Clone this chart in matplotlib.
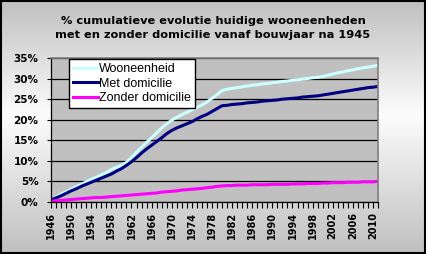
import matplotlib
matplotlib.use("Agg")
import matplotlib.pyplot as plt
import numpy as np
from matplotlib.patches import Rectangle

years = list(range(1946, 2012))

wooneenheid = [0.5, 1.2, 1.9, 2.5, 3.1, 3.7, 4.3, 4.9, 5.5, 6.0,
               6.6, 7.2, 7.9, 8.4, 8.9, 9.6, 10.8, 12.1, 13.3, 14.5,
               15.6, 16.8, 18.0, 19.0, 19.9, 20.6, 21.2, 21.8, 22.4, 23.0,
               23.6, 24.3, 25.2, 26.1, 27.1, 27.4, 27.6, 27.8, 28.0, 28.2,
               28.4, 28.5, 28.7, 28.8, 29.0, 29.1, 29.3, 29.4, 29.6, 29.7,
               29.9, 30.0, 30.2, 30.3, 30.5, 30.8, 31.1, 31.4, 31.6, 31.9,
               32.1, 32.4, 32.6, 32.8, 33.0, 33.2]

met_domicilie = [0.5, 1.0, 1.5, 2.1, 2.7, 3.2, 3.8, 4.3, 4.8, 5.3,
                 5.8, 6.3, 6.8, 7.5, 8.1, 8.9, 9.8, 10.8, 11.9, 12.9,
                 13.8, 14.7, 15.6, 16.6, 17.4, 18.0, 18.5, 19.0, 19.5, 20.2,
                 20.8, 21.3, 22.0, 22.7, 23.4, 23.5, 23.7, 23.8, 23.9, 24.1,
                 24.2, 24.3, 24.5, 24.6, 24.7, 24.8, 25.0, 25.1, 25.2, 25.3,
                 25.5, 25.6, 25.7, 25.8, 26.0, 26.2, 26.4, 26.6, 26.8, 27.0,
                 27.2, 27.4, 27.6, 27.8, 27.9, 28.1]

zonder_domicilie = [0.2, 0.3, 0.4, 0.5, 0.6, 0.7, 0.8, 0.9, 1.0, 1.1,
                    1.1, 1.2, 1.3, 1.4, 1.5, 1.6, 1.7, 1.8, 1.9, 2.0,
                    2.1, 2.2, 2.4, 2.5, 2.6, 2.7, 2.9, 3.0, 3.1, 3.2,
                    3.3, 3.5, 3.6, 3.8, 3.9, 4.0, 4.0, 4.1, 4.1, 4.1,
                    4.2, 4.2, 4.2, 4.2, 4.3, 4.3, 4.3, 4.3, 4.4, 4.4,
                    4.4, 4.5, 4.5, 4.5, 4.6, 4.6, 4.7, 4.7, 4.7, 4.8,
                    4.8, 4.8, 4.9, 4.9, 4.9, 5.0]

y_ticks = [0, 5, 10, 15, 20, 25, 30, 35]
label_years = list(range(1946, 2012, 4))

fig = plt.figure(figsize=(4.26, 2.54), dpi=100)

# grey-white-grey background like the excel chart area
bg = fig.add_axes([0, 0, 1, 1], zorder=-10)
t = np.linspace(0, 1, 254)
prof = np.where(t < 0.45, t / 0.45, (1 - t) / 0.55)
shade = 0.75 + 0.24 * prof
img = np.repeat(shade[:, None], 10, axis=1)
bg.imshow(np.dstack([img, img, img]), aspect='auto', extent=[0, 1, 0, 1])
bg.set_axis_off()
fig.patches.append(Rectangle((0.002, 0.004), 0.996, 0.992, transform=fig.transFigure,
                             fill=False, edgecolor='black', lw=1.5))

ax = fig.add_axes([51 / 426, 1 - 202 / 254, 327 / 426, 144 / 254])
ax.set_facecolor('#C0C0C0')
ax.plot(years, wooneenheid, color='#CCFFFF', lw=2.2, label='Wooneenheid')
ax.plot(years, met_domicilie, color='#000080', lw=2.2, label='Met domicilie')
ax.plot(years, zonder_domicilie, color='#FF00FF', lw=2.2, label='Zonder domicilie')

ax.set_xlim(years[0], years[-1])
ax.set_ylim(0, 35)
ax.set_yticks(y_ticks)
ax.set_yticklabels(['{}%'.format(v) for v in y_ticks], fontsize=7.5, fontweight='bold')
ax.set_xticks(years)
ax.set_xticklabels([str(y) if y in label_years else '' for y in years],
                   rotation=90, fontsize=7, fontweight='bold')
ax.tick_params(axis='x', length=4, width=0.8, pad=3)
ax.tick_params(axis='y', length=3, width=0.8, pad=6)
ax.grid(axis='y', color='black', lw=0.9)
ax.set_axisbelow(True)
for s in ['top', 'right']:
    ax.spines[s].set_color('#808080')
    ax.spines[s].set_linewidth(1.2)
for s in ['left', 'bottom']:
    ax.spines[s].set_color('black')
    ax.spines[s].set_linewidth(0.9)

leg = ax.legend(loc='upper left', bbox_to_anchor=(0.055, 0.99), borderaxespad=0,
                fancybox=False, framealpha=1, edgecolor='black',
                prop={'family': 'Liberation Sans', 'size': 9},
                handlelength=2.0, handletextpad=0.1, labelspacing=0.2,
                borderpad=0.3)
leg.get_frame().set_linewidth(1.0)

fig.text(0.5, 1 - 16 / 254, '% cumulatieve evolutie huidige wooneenheden\n'
         'met en zonder domicilie vanaf bouwjaar na 1945',
         ha='center', va='top', fontsize=8.2, fontweight='bold', linespacing=1.55)

fig.savefig('out.png', dpi=100)
